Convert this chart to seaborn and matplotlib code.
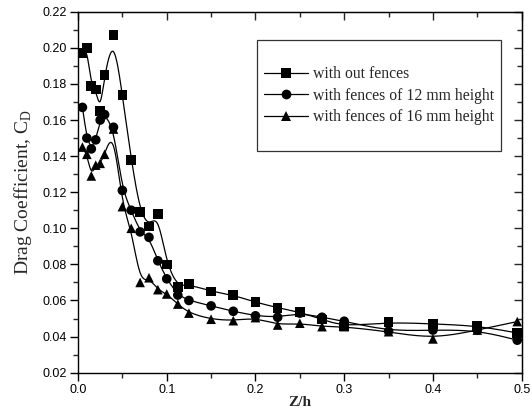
import numpy as np
import pandas as pd
import matplotlib
matplotlib.use("Agg")
import matplotlib.pyplot as plt
from matplotlib.lines import Line2D
from matplotlib.ticker import MultipleLocator
import seaborn as sns

# Z/h positions of the measuring points
z_h = [0.005, 0.01, 0.015, 0.02, 0.025, 0.03, 0.04, 0.05, 0.06, 0.07, 0.08, 0.09, 0.10,
       0.1125, 0.125, 0.15, 0.175, 0.20, 0.225, 0.25, 0.275, 0.30, 0.35, 0.40, 0.45, 0.495]

# drag coefficient
cd_no_fence = [0.197, 0.200, 0.179, 0.177, 0.165, 0.185, 0.207, 0.174, 0.138, 0.109, 0.101,
               0.108, 0.080, 0.0675, 0.069, 0.065, 0.063, 0.059, 0.056, 0.0535, 0.0495,
               0.0455, 0.048, 0.047, 0.046, 0.042]
cd_fence_12 = [0.167, 0.150, 0.144, 0.149, 0.160, 0.163, 0.156, 0.121, 0.110, 0.098, 0.095,
               0.082, 0.072, 0.063, 0.060, 0.057, 0.054, 0.0515, 0.0507, 0.053, 0.0507,
               0.0485, 0.043, 0.0436, 0.0436, 0.038]
cd_fence_16 = [0.145, 0.141, 0.129, 0.135, 0.136, 0.141, 0.155, 0.112, 0.100, 0.070, 0.0726,
               0.066, 0.0636, 0.058, 0.053, 0.0496, 0.0488, 0.0505, 0.0464, 0.0474, 0.0455,
               0.0455, 0.0427, 0.0387, 0.0436, 0.0483]

labels = ["with out fences", "with fences of 12 mm height", "with fences of 16 mm height"]
markers = {labels[0]: "s", labels[1]: "o", labels[2]: "^"}


def bspline(x, y, n=25):
    # uniform cubic B-spline with the data as control points (clamped ends)
    p = np.column_stack([x, y])
    p = np.vstack([p[0], p[0], p, p[-1], p[-1]])
    t = np.linspace(0, 1, n)
    b0 = (1 - t) ** 3 / 6
    b1 = (3 * t**3 - 6 * t**2 + 4) / 6
    b2 = (-3 * t**3 + 3 * t**2 + 3 * t + 1) / 6
    b3 = t**3 / 6
    seg = []
    for i in range(len(p) - 3):
        q = (np.outer(b0, p[i]) + np.outer(b1, p[i + 1]) +
             np.outer(b2, p[i + 2]) + np.outer(b3, p[i + 3]))
        seg.append(q)
    q = np.vstack(seg)
    return q[:, 0], q[:, 1]


points = []
curves = []
for lab, vals in zip(labels, [cd_no_fence, cd_fence_12, cd_fence_16]):
    points.append(pd.DataFrame({"z": z_h, "cd": vals, "case": lab}))
    cx, cy = bspline(z_h, vals)
    curves.append(pd.DataFrame({"z": cx, "cd": cy, "case": lab}))
points = pd.concat(points, ignore_index=True)
curves = pd.concat(curves, ignore_index=True)

sns.set_style("ticks")
plt.rcParams["font.family"] = ["Liberation Sans", "DejaVu Sans"]

fig = plt.figure(figsize=(5.32, 4.12), dpi=100)
ax = fig.add_axes([0.1466, 0.0955, 0.834, 0.876])

sns.lineplot(data=curves, x="z", y="cd", units="case", estimator=None, sort=False,
             color="black", lw=0.9, ax=ax)
sns.scatterplot(data=points, x="z", y="cd", style="case", markers=markers,
                color="black", edgecolor="black", s=48, linewidth=0, legend=False, ax=ax)

ax.set_xlim(0, 0.5)
ax.set_ylim(0.02, 0.22)
ax.xaxis.set_major_locator(MultipleLocator(0.1))
ax.xaxis.set_minor_locator(MultipleLocator(0.05))
ax.yaxis.set_major_locator(MultipleLocator(0.02))
ax.yaxis.set_minor_locator(MultipleLocator(0.01))
ax.xaxis.set_major_formatter(plt.FuncFormatter(lambda v, p: f"{v:.1f}"))
ax.yaxis.set_major_formatter(plt.FuncFormatter(lambda v, p: f"{v:.2f}"))
ax.tick_params(which="major", direction="out", length=6, width=1, labelsize=9,
               colors="black", pad=2)
ax.tick_params(which="minor", direction="out", length=3.5, width=1)
for s in ax.spines.values():
    s.set_linewidth(1)
    s.set_color("black")

# mirrored inward ticks on top and right
axt = ax.secondary_xaxis("top")
axt.xaxis.set_major_locator(MultipleLocator(0.1))
axt.xaxis.set_minor_locator(MultipleLocator(0.05))
axt.tick_params(which="major", direction="in", length=6, width=1, labeltop=False)
axt.tick_params(which="minor", direction="in", length=3.5, width=1)
axr = ax.secondary_yaxis("right")
axr.yaxis.set_major_locator(MultipleLocator(0.02))
axr.yaxis.set_minor_locator(MultipleLocator(0.01))
axr.tick_params(which="major", direction="in", length=6, width=1, labelright=False)
axr.tick_params(which="minor", direction="in", length=3.5, width=1)

ax.set_xlabel("Z/h", family="Liberation Serif", fontsize=11, fontweight="bold", labelpad=0)
ax.set_ylabel("Drag Coefficient, C$_\\mathregular{D}$", family="Liberation Serif",
              fontsize=14, labelpad=6)

# legend with an empty row above and below, like the original
handles = [Line2D([], [], color="black", lw=0.9, marker=markers[l], markersize=7,
                  markeredgewidth=0) for l in labels]
handles.append(Line2D([], [], color="none"))
leg = ax.legend(handles, labels + [" "], title=" ", loc="upper left",
                bbox_to_anchor=(0.403, 0.922), borderaxespad=0, frameon=True,
                fancybox=False, edgecolor="black", handlelength=2.8, handletextpad=0.3,
                borderpad=0.45, labelspacing=0.35,
                prop={"family": "Liberation Serif", "size": 11.3})
leg.get_title().set_fontsize(11)
leg.get_texts()[-1].set_fontsize(6)
leg.get_frame().set_linewidth(0.9)

fig.savefig("out.png", dpi=100)
